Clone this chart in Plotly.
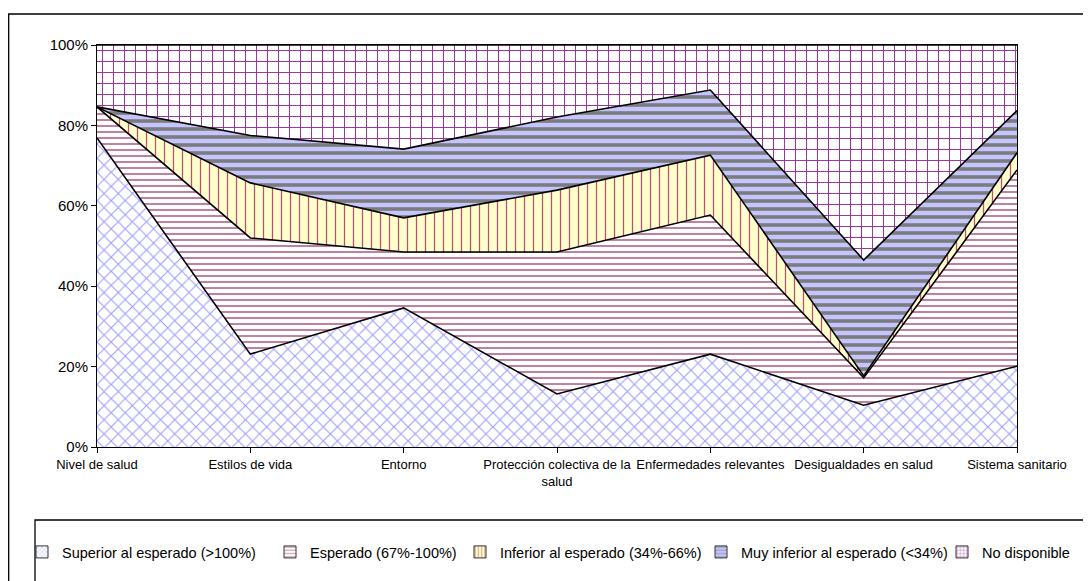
import plotly.graph_objects as go

categories = ["Nivel de salud", "Estilos de vida", "Entorno",
              "Protección colectiva de la<br>salud", "Enfermedades relevantes",
              "Desigualdades en salud", "Sistema sanitario"]

superior = [76.9, 23.1, 34.6, 13.2, 23.1, 10.4, 20.1]
esperado = [7.7, 28.9, 13.9, 35.3, 34.6, 6.8, 48.8]
inferior = [0.0, 13.7, 8.5, 15.4, 14.9, 0.5, 4.3]
muy_inferior = [0.0, 11.8, 17.1, 18.2, 16.2, 28.8, 10.5]
no_disponible = [15.4, 22.5, 25.9, 17.9, 11.2, 53.5, 16.3]

series_names = ["Superior al esperado (>100%)", "Esperado (67%-100%)",
                "Inferior al esperado (34%-66%)", "Muy inferior al esperado (<34%)",
                "No disponible"]

styles = [
    dict(shape="x", fgcolor="#9c9cff", bgcolor="#ffffff", size=10, solidity=0.2),
    dict(shape="-", fgcolor="#a0406e", bgcolor="#ffffff", size=6, solidity=0.22),
    dict(shape="|", fgcolor="#b8507a", bgcolor="#ffffcc", size=9, solidity=0.14),
    dict(shape="-", fgcolor="#7c7c7c", bgcolor="#c4c4ff", size=8, solidity=0.45),
    dict(shape="+", fgcolor="#993399", bgcolor="#ffffff", size=11, solidity=0.17),
]

fig = go.Figure()
for name, vals, st in zip(series_names,
                          [superior, esperado, inferior, muy_inferior, no_disponible],
                          styles):
    pat = dict(shape=st["shape"], fgcolor=st["fgcolor"], bgcolor=st["bgcolor"],
               size=st["size"], solidity=st["solidity"], fillmode="replace")
    fig.add_trace(go.Scatter(
        x=categories, y=vals, name=name, mode="lines", stackgroup="one",
        line=dict(color="black", width=1.6),
        fillcolor=st["bgcolor"], fillpattern=pat, showlegend=False,
    ))

legend_ids = ["legend", "legend2", "legend3", "legend4", "legend5"]

# legend-only entries (square swatches like the reference), one legend box each
for name, st, lid in zip(series_names, styles, legend_ids):
    fig.add_trace(go.Bar(
        x=[None], y=[None], name=name, showlegend=True, legend=lid,
        marker=dict(color=st["bgcolor"], line=dict(color="#333333", width=1),
                    pattern=dict(shape=st["shape"], fgcolor=st["fgcolor"],
                                 bgcolor=st["bgcolor"], size=4, solidity=0.4)),
    ))

# pixel geometry in figure coordinates (page is offset by 8px body margin)
L, R, T, B = 89, 1009, 37, 439
W, H = 1091, 581
pw, ph = R - L, B - T

def px(x):
    return (x - L) / pw

def py(y):
    return (B - y) / ph

legend_left = [14, 262, 452, 693, 934]

layout_legends = {}
for lid, xl in zip(legend_ids, legend_left):
    layout_legends[lid] = dict(orientation="h", x=px(xl), y=py(544), xanchor="left",
                               yanchor="middle", font=dict(size=14.5),
                               bgcolor="rgba(0,0,0,0)")

fig.update_layout(
    width=W, height=H,
    margin=dict(l=L, r=W - R, t=T, b=H - B, autoexpand=False),
    paper_bgcolor="white", plot_bgcolor="white",
    font=dict(family="Liberation Sans, Arial, sans-serif", size=13, color="black"),
    showlegend=True,
    xaxis=dict(range=[0, 6], showgrid=False, showline=True, linecolor="black",
               linewidth=1, mirror=True, ticks="outside", ticklen=5, tickcolor="black",
               tickfont=dict(size=13), tickangle=0, automargin=False,
               zeroline=False, fixedrange=True),
    yaxis=dict(range=[0, 100], dtick=20, ticksuffix="%", showgrid=False, showline=True,
               linecolor="black", linewidth=1, mirror=True, ticks="outside", ticklen=5,
               tickcolor="black", tickfont=dict(size=15), automargin=False, zeroline=False),
    shapes=[
        dict(type="rect", xref="paper", yref="paper", x0=px(0.7), x1=px(1100),
             y0=py(600), y1=py(6), line=dict(color="black", width=1.3),
             fillcolor="rgba(0,0,0,0)", layer="below"),
        dict(type="rect", xref="paper", yref="paper", x0=px(27), x1=px(1082),
             y0=py(600), y1=py(512), line=dict(color="black", width=1.3),
             fillcolor="rgba(0,0,0,0)", layer="below"),
    ],
    **layout_legends,
)

fig.write_html("out.html")
